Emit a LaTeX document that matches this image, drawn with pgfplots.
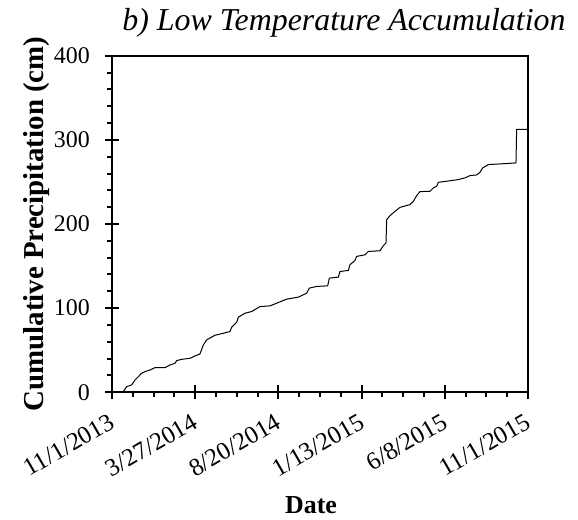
\documentclass[border=0pt]{standalone}
\usepackage{pgfplots}
\pgfplotsset{compat=1.18}
\usepackage{fontspec}
\setmainfont{Liberation Serif}
\begin{document}
\begin{tikzpicture}[x=1bp,y=1bp]
\useasboundingbox (-112bp,-127.7bp) rectangle (466bp,392.3bp);
\begin{axis}[
  at={(0,0)}, anchor=origin,
  scale only axis,
  width=416bp, height=336.6bp,
  xmin=0, xmax=730, ymin=0, ymax=400,
  /pgf/number format/assume math mode=true,
  axis line style={line width=2bp},
  xtick={0,146,292,438,584,730},
  xticklabels={11/1/2013,3/27/2014,8/20/2014,1/13/2015,6/8/2015,11/1/2015},
  ytick={0,100,200,300,400},
  yticklabels={0,100,200,300,400},
  minor x tick num=3,
  minor y tick num=4,
  tick align=center,
  major tick length=14bp,
  minor tick length=5bp,
  minor x tick style={yshift=-2.5bp},
  minor y tick style={xshift=-2.5bp},
  tick style={black, line width=2bp},
  xtick pos=bottom, ytick pos=left,
  xticklabel style={font=\fontsize{25}{30}\selectfont, anchor=north east, inner sep=0pt, xshift=-4bp, yshift=-13bp, rotate=30},
  yticklabel style={font=\fontsize{24}{28}\selectfont, anchor=east, inner sep=0pt, xshift=-15bp},
  xlabel={\textbf{Date}},
  xlabel style={font=\fontsize{26}{30}\selectfont, at={(axis description cs:0.5,0)}, anchor=base, yshift=-121bp, xshift=-9bp},
  ylabel={\textbf{Cumulative Precipitation (cm)}},
  ylabel style={font=\fontsize{29}{34}\selectfont, at={(axis description cs:-0.1635,0.5)}, anchor=base},
  clip=false,
]
\addplot[black, line width=1bp] coordinates {
(0,0) (19.9,0.8) (25.7,6.7) (34.5,8.7) (40.4,14.6) (46.2,18.6) (52,22.6) (57.9,24.6) (66.7,26.5) (75.5,29.3) (93,29.3) (101.8,32.5) (110.6,34.5) (113.5,37.7) (122.3,39.2) (136.9,40.4) (145.6,43.2) (154.4,45.6) (160.3,56.3) (166.1,62.3) (180.7,67.8) (195.4,70.2) (207,72.2) (210,77.3) (218.8,83.3) (221.7,89.3) (233.4,94) (245.1,96) (259.7,101.9) (277.3,102.7) (291.9,106.7) (306.5,110.7) (327,113.1) (341.6,117.8) (346.3,123.8) (359.1,125.8) (378.5,126.5) (381.4,135.7) (397.2,136.9) (400.1,143.6) (414.7,144.8) (417.6,151.6) (426.4,156.7) (429.3,161.5) (444,163.4) (449.8,167.4) (470.3,168.2) (476.1,174.2) (480.8,177.4) (482,205.1) (487.8,209.9) (496.6,215) (505.4,219.8) (522.9,223) (528.8,226.9) (534.6,233.7) (540.5,238.5) (558,238.9) (563.9,242.9) (569.7,244.8) (572.6,249.6) (587.3,250.8) (607.7,252.8) (619.4,254.8) (628.2,257.5) (639.9,258.3) (645.8,261.5) (650.4,266.6) (660.4,270.6) (680.9,271.4) (708.9,272.6) (710.1,312.3) (730,312.3)
};
\node[anchor=base, font=\fontsize{32}{36}\selectfont\itshape] at (axis cs:365,0) [yshift=361.6bp, xshift=24bp] {b) Low Temperature Accumulation};
\end{axis}
\end{tikzpicture}
\end{document}
